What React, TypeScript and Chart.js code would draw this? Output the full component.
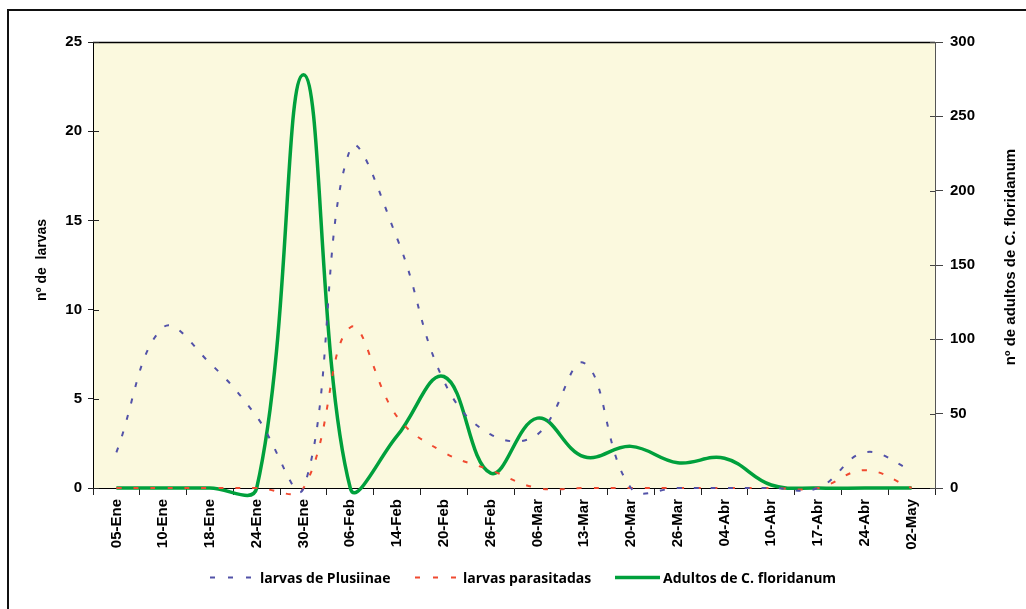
import React, { useEffect, useRef } from 'react';
import { Chart, registerables } from 'chart.js';

Chart.register(...registerables);

const categories = [
  '05-Ene', '10-Ene', '18-Ene', '24-Ene', '30-Ene', '06-Feb', '14-Feb', '20-Feb', '26-Feb',
  '06-Mar', '13-Mar', '20-Mar', '26-Mar', '04-Abr', '10-Abr', '17-Abr', '24-Abr', '02-May',
];
const plusiinae = [2, 9, 7, 4, 0, 19, 14, 6, 3, 3, 7, 0, 0, 0, 0, 0, 2, 1];
const parasitadas = [0, 0, 0, 0, 0, 9, 4, 2, 1, 0, 0, 0, 0, 0, 0, 0, 1, 0];
const adultos = [0, 0, 0, 0, 278, 0, 35, 75, 10, 47, 21, 28, 17, 20, 2, 0, 0, 0];

const seriesNames = ['larvas de Plusiinae', 'larvas parasitadas', 'Adultos de C. floridanum'];
const leftTitle = 'nº de  larvas';
const rightTitle = 'nº de adultos de C. floridanum';
const leftRange = [0, 25, 5];
const rightRange = [0, 300, 50];

const BLUE = '#5252a8';
const RED = '#f04a30';
const GREEN = '#00a03c';
const PLOT_BG = '#fbf9de';
const AXIS_FONT = { family: '"Liberation Sans", Arial, sans-serif', weight: 'bold' as const, size: 15 };

const decor = {
  id: 'decor',
  beforeDraw(chart: any) {
    const { ctx, chartArea: a } = chart;
    ctx.save();
    ctx.fillStyle = '#ffffff';
    ctx.fillRect(0, 0, chart.width, chart.height);
    ctx.fillStyle = PLOT_BG;
    ctx.fillRect(a.left, a.top, a.right - a.left, a.bottom - a.top);
    ctx.restore();
  },
  afterDraw(chart: any) {
    const { ctx, chartArea: a } = chart;
    ctx.save();
    ctx.strokeStyle = '#000';
    ctx.lineWidth = 1.5;
    ctx.beginPath();
    ctx.moveTo(a.left, a.top + 0.5);
    ctx.lineTo(a.right, a.top + 0.5);
    ctx.stroke();

    ctx.lineWidth = 1;
    const yl = chart.scales.y;
    yl.ticks.forEach((_t: any, i: number) => {
      const p = Math.round(yl.getPixelForTick(i)) + 0.5;
      ctx.strokeStyle = '#222';
      ctx.beginPath();
      ctx.moveTo(a.left, p);
      ctx.lineTo(a.left + 6, p);
      ctx.stroke();
    });
    const yr = chart.scales.y1;
    yr.ticks.forEach((_t: any, i: number) => {
      const p = Math.round(yr.getPixelForTick(i)) + 0.5;
      ctx.strokeStyle = '#444';
      ctx.beginPath();
      ctx.moveTo(a.right - 5, p);
      ctx.lineTo(a.right, p);
      ctx.stroke();
    });

    ctx.fillStyle = '#000';
    ctx.textAlign = 'center';
    ctx.textBaseline = 'middle';
    ctx.font = 'bold 14px "Liberation Sans", Arial, sans-serif';
    ctx.save();
    ctx.translate(42, 260);
    ctx.rotate(-Math.PI / 2);
    ctx.fillText(leftTitle, 0, 0);
    ctx.restore();
    ctx.font = 'bold 15px "Liberation Sans", Arial, sans-serif';
    ctx.save();
    ctx.translate(1011, 257);
    ctx.rotate(-Math.PI / 2);
    ctx.fillText(rightTitle, 0, 0);
    ctx.restore();

    const ly = 577.5;
    const items = [
      { x0: 210, x1: 256, tx: 260, color: BLUE, dash: [5, 13], w: 2 },
      { x0: 415, x1: 459, tx: 463, color: RED, dash: [5, 13], w: 2 },
      { x0: 615, x1: 660, tx: 663, color: GREEN, dash: [], w: 3.5 },
    ];
    ctx.textAlign = 'left';
    ctx.font = 'bold 14px "Open Sans", "Noto Sans", sans-serif';
    items.forEach((it, i) => {
      ctx.strokeStyle = it.color;
      ctx.lineWidth = it.w;
      ctx.setLineDash(it.dash);
      ctx.beginPath();
      ctx.moveTo(it.x0, ly);
      ctx.lineTo(it.x1, ly);
      ctx.stroke();
      ctx.setLineDash([]);
      ctx.fillStyle = '#000';
      ctx.fillText(seriesNames[i], it.tx, ly + 2);
    });

    ctx.strokeStyle = '#111';
    ctx.lineWidth = 2;
    ctx.beginPath();
    ctx.moveTo(8, chart.height);
    ctx.lineTo(8, 10);
    ctx.lineTo(chart.width, 10);
    ctx.stroke();
    ctx.restore();
  },
};

export default function App() {
  const ref = useRef<HTMLCanvasElement>(null);
  useEffect(() => {
    if (!ref.current) return;
    const chart = new Chart(ref.current, {
      type: 'line',
      data: {
        labels: categories,
        datasets: [
          {
            label: seriesNames[0],
            data: plusiinae,
            yAxisID: 'y',
            borderColor: BLUE,
            borderWidth: 2,
            borderDash: [5, 12],
            pointRadius: 0,
            tension: 0.4,
            fill: false,
            clip: false,
          },
          {
            label: seriesNames[1],
            data: parasitadas,
            yAxisID: 'y',
            borderColor: RED,
            borderWidth: 2,
            borderDash: [5, 12],
            pointRadius: 0,
            tension: 0.4,
            fill: false,
            clip: false,
          },
          {
            label: seriesNames[2],
            data: adultos,
            yAxisID: 'y1',
            borderColor: GREEN,
            borderWidth: 3.5,
            pointRadius: 0,
            tension: 0.4,
            fill: false,
            clip: false,
          },
        ],
      },
      options: {
        animation: false,
        responsive: false,
        maintainAspectRatio: false,
        events: [],
        elements: { line: { capBezierPoints: false } },
        layout: { padding: { top: 42, left: 0, right: 0, bottom: 51 } },
        plugins: { legend: { display: false }, tooltip: { enabled: false } },
        scales: {
          x: {
            offset: true,
            afterFit: (s: any) => { s.height = 70; },
            grid: { offset: true, drawOnChartArea: false, tickLength: 7, color: '#222' },
            border: { color: '#000', width: 1 },
            ticks: {
              autoSkip: false,
              minRotation: 90,
              maxRotation: 90,
              padding: 4,
              color: '#000',
              font: AXIS_FONT,
            },
          },
          y: {
            position: 'left',
            min: leftRange[0],
            max: leftRange[1],
            afterFit: (s: any) => { s.width = 93; },
            grid: { drawOnChartArea: false, tickLength: 5, color: '#222' },
            border: { color: '#000', width: 1 },
            ticks: { stepSize: leftRange[2], padding: 6, color: '#000', font: AXIS_FONT },
          },
          y1: {
            position: 'right',
            min: rightRange[0],
            max: rightRange[1],
            afterFit: (s: any) => { s.width = 91; },
            grid: { drawOnChartArea: false, tickLength: 8, color: '#444' },
            border: { color: '#555', width: 1 },
            ticks: { stepSize: rightRange[2], padding: 7, color: '#000', font: AXIS_FONT },
          },
        },
      },
      plugins: [decor],
    });
    return () => chart.destroy();
  }, []);
  return (
    <div style={{ position: 'fixed', left: 0, top: 0, width: 1026, height: 609 }}>
      <canvas ref={ref} width={1026} height={609} style={{ display: 'block' }} />
    </div>
  );
}
